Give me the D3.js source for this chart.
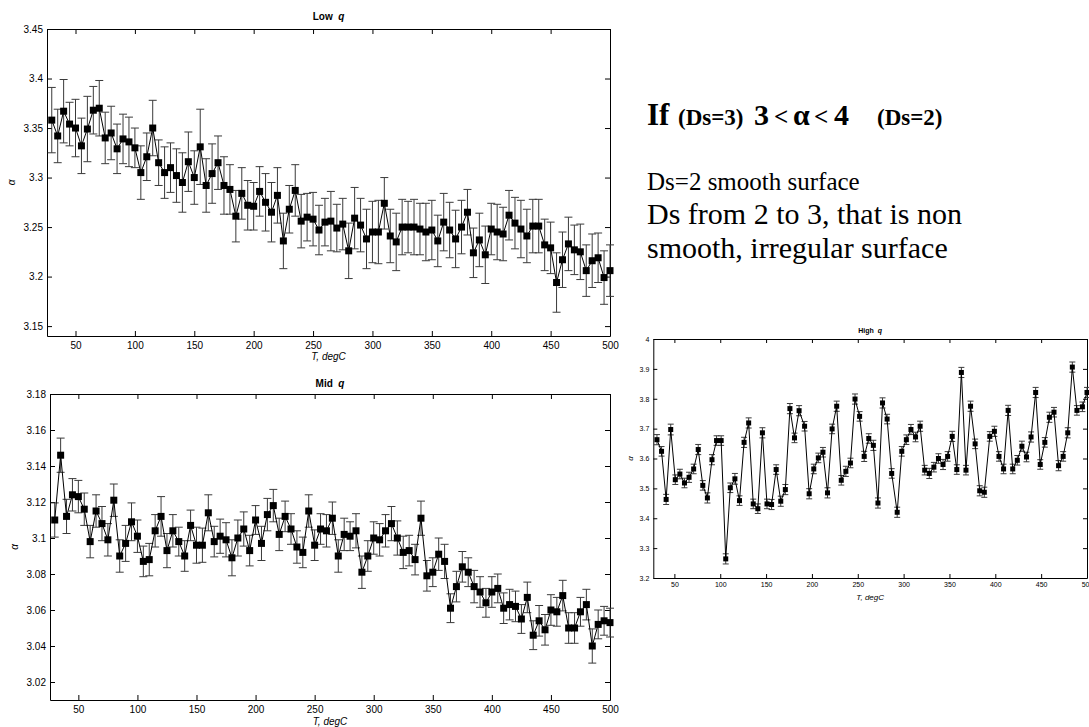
<!DOCTYPE html>
<html><head><meta charset="utf-8">
<script src="https://cdn.jsdelivr.net/npm/d3@7"></script>
<style>
body{margin:0;background:#fff;}
svg{display:block;}
text.sans{font-family:"Liberation Sans",Arial,Helvetica,sans-serif;}
text.serif{font-family:"Liberation Serif","Times New Roman",serif;}
</style>
</head><body>
<svg id="chart" width="1089" height="727"></svg>
<script>
// ---------------- DATA ----------------
const temps = [30,35,40,45,50,55,60,65,70,75,80,85,90,95,100,105,110,115,120,125,
  130,135,140,145,150,155,160,165,170,175,180,185,190,195,200,205,210,215,220,225,
  230,235,240,245,250,255,260,265,270,275,280,285,290,295,300,305,310,315,320,325,
  330,335,340,345,350,355,360,365,370,375,380,385,390,395,400,405,410,415,420,425,
  430,435,440,445,450,455,460,465,470,475,480,485,490,495,500];

const lowAlpha = [3.358,3.342,3.367,3.354,3.350,3.332,3.349,3.368,3.370,3.340,
  3.345,3.329,3.339,3.336,3.330,3.305,3.321,3.350,3.315,3.305,
  3.310,3.302,3.295,3.316,3.300,3.331,3.292,3.304,3.315,3.292,
  3.288,3.261,3.284,3.272,3.271,3.286,3.275,3.265,3.282,3.236,
  3.268,3.287,3.256,3.260,3.258,3.247,3.255,3.256,3.249,3.253,
  3.226,3.259,3.252,3.238,3.245,3.245,3.274,3.241,3.235,3.250,
  3.250,3.250,3.248,3.245,3.247,3.236,3.255,3.247,3.238,3.250,
  3.265,3.224,3.237,3.222,3.248,3.245,3.243,3.262,3.254,3.248,
  3.241,3.251,3.251,3.232,3.229,3.194,3.217,3.233,3.227,3.225,
  3.206,3.216,3.219,3.199,3.206];
const lowErr = [0.033,0.027,0.032,0.022,0.029,0.028,0.033,0.024,0.028,0.026,
  0.027,0.025,0.025,0.025,0.020,0.027,0.024,0.028,0.023,0.026,
  0.025,0.027,0.030,0.030,0.027,0.038,0.027,0.030,0.027,0.029,
  0.025,0.026,0.026,0.025,0.024,0.025,0.029,0.030,0.028,0.028,
  0.024,0.026,0.027,0.024,0.027,0.025,0.024,0.030,0.024,0.026,
  0.028,0.031,0.027,0.030,0.031,0.032,0.026,0.027,0.029,0.028,
  0.026,0.028,0.026,0.029,0.030,0.026,0.029,0.028,0.029,0.027,
  0.023,0.025,0.027,0.029,0.026,0.028,0.027,0.025,0.026,0.029,
  0.027,0.027,0.027,0.026,0.026,0.030,0.028,0.027,0.025,0.028,
  0.026,0.027,0.025,0.027,0.026];

const midAlpha = [3.110,3.146,3.112,3.124,3.123,3.116,3.098,3.115,3.108,3.099,
  3.121,3.090,3.097,3.109,3.101,3.087,3.088,3.104,3.112,3.093,
  3.104,3.098,3.090,3.107,3.096,3.096,3.114,3.098,3.101,3.099,
  3.089,3.100,3.105,3.093,3.110,3.097,3.113,3.118,3.102,3.112,
  3.105,3.095,3.092,3.115,3.096,3.105,3.104,3.111,3.090,3.102,
  3.101,3.104,3.081,3.090,3.100,3.099,3.104,3.108,3.100,3.092,
  3.093,3.088,3.111,3.079,3.081,3.091,3.087,3.061,3.073,3.084,
  3.081,3.073,3.070,3.064,3.070,3.072,3.061,3.063,3.062,3.055,
  3.067,3.046,3.054,3.049,3.060,3.059,3.068,3.050,3.050,3.059,
  3.063,3.040,3.052,3.054,3.053];
const midErr = [0.0095,0.0095,0.0095,0.0090,0.0090,0.0090,0.0090,0.0090,0.0095,0.0090,
  0.0090,0.0090,0.0100,0.0105,0.0090,0.0085,0.0090,0.0090,0.0110,0.0095,
  0.0090,0.0080,0.0085,0.0085,0.0100,0.0095,0.0100,0.0085,0.0095,0.0095,
  0.0100,0.0100,0.0095,0.0085,0.0080,0.0095,0.0090,0.0090,0.0090,0.0085,
  0.0085,0.0090,0.0085,0.0090,0.0085,0.0085,0.0090,0.0090,0.0090,0.0090,
  0.0080,0.0095,0.0090,0.0085,0.0090,0.0090,0.0090,0.0095,0.0095,0.0090,
  0.0085,0.0085,0.0095,0.0085,0.0080,0.0090,0.0095,0.0080,0.0085,0.0085,
  0.0080,0.0090,0.0085,0.0080,0.0085,0.0080,0.0085,0.0085,0.0085,0.0080,
  0.0085,0.0080,0.0085,0.0085,0.0085,0.0080,0.0085,0.0085,0.0085,0.0080,
  0.0085,0.0095,0.0080,0.0080,0.0080];

const highTemps = [31,36,41,46,51,56,61,66,71,76,
  81,86,91,96,101,106,111,116,121,126,
  131,136,141,146,151,156,161,166,171,176,
  181,186,192,197,202,207,212,217,222,227,
  232,237,242,247,252,257,262,267,272,277,
  282,287,293,298,303,308,313,318,323,328,
  333,338,343,348,353,358,363,368,373,378,
  383,388,394,399,404,409,414,419,424,429,
  434,439,444,449,454,459,464,469,474,479,
  484,489,495,500];
const highAlpha = [3.663,3.624,3.463,3.697,3.529,3.548,3.518,3.537,3.565,3.630,
  3.510,3.468,3.596,3.660,3.660,3.264,3.502,3.532,3.459,3.654,
  3.719,3.448,3.432,3.686,3.448,3.446,3.563,3.457,3.496,3.767,
  3.669,3.760,3.708,3.482,3.565,3.602,3.621,3.485,3.699,3.775,
  3.527,3.557,3.585,3.799,3.741,3.607,3.667,3.644,3.451,3.786,
  3.732,3.550,3.420,3.624,3.663,3.697,3.672,3.708,3.561,3.550,
  3.571,3.600,3.580,3.607,3.674,3.563,3.888,3.561,3.775,3.649,
  3.492,3.487,3.674,3.691,3.607,3.565,3.761,3.565,3.594,3.641,
  3.605,3.672,3.821,3.580,3.654,3.738,3.755,3.576,3.607,3.686,
  3.906,3.761,3.773,3.821];
const highErr = [0.017,0.016,0.017,0.018,0.016,0.016,0.016,0.017,0.016,0.017,
  0.016,0.017,0.017,0.016,0.016,0.017,0.016,0.018,0.016,0.017,
  0.017,0.016,0.016,0.017,0.016,0.017,0.016,0.017,0.017,0.017,
  0.016,0.017,0.016,0.017,0.016,0.016,0.016,0.017,0.016,0.017,
  0.016,0.017,0.016,0.017,0.016,0.017,0.016,0.017,0.017,0.017,
  0.016,0.016,0.017,0.016,0.016,0.017,0.016,0.017,0.016,0.017,
  0.016,0.016,0.017,0.016,0.017,0.016,0.017,0.016,0.017,0.016,
  0.017,0.017,0.016,0.017,0.016,0.016,0.017,0.016,0.016,0.017,
  0.016,0.017,0.017,0.016,0.016,0.017,0.016,0.017,0.016,0.017,
  0.017,0.016,0.016,0.017];

const xTicks = [50,100,150,200,250,300,350,400,450,500];
const lowYTicks = [3.15,3.2,3.25,3.3,3.35,3.4,3.45];
const midYTicks = [3.02,3.04,3.06,3.08,3.1,3.12,3.14,3.16,3.18];
const highYTicks = [3.2,3.3,3.4,3.5,3.6,3.7,3.8,3.9,4];

const titles = ["Low", "Mid", "High"];
const xLabel = "T, degC";
const yLabel = "\u03B1";

// ---------------- DRAWING ----------------
const svg = d3.select("#chart");
const fmtY = d => String(Math.round(d * 100) / 100);

function panel(o) {
  const g = svg.append("g");
  const x = d3.scaleLinear().domain(o.xDomain).range([o.left, o.right]);
  const y = d3.scaleLinear().domain(o.yDomain).range([o.bottom, o.top]);

  const styleAxis = sel => {
    sel.selectAll("path.domain").attr("stroke", "#000").attr("stroke-width", 1);
    sel.selectAll(".tick line").attr("stroke", "#000").attr("stroke-width", 1);
    sel.selectAll("text").attr("class", "sans").attr("fill", "#000").attr("font-size", o.tickFont);
  };

  g.append("g").attr("transform", `translate(0,${o.bottom})`)
    .call(d3.axisBottom(x).tickValues(xTicks).tickSize(-o.tick).tickSizeOuter(0)
      .tickPadding(o.xPad).tickFormat(d3.format("d"))).call(styleAxis);
  g.append("g").attr("transform", `translate(0,${o.top})`)
    .call(d3.axisTop(x).tickValues(xTicks).tickSize(-o.tick).tickSizeOuter(0)
      .tickFormat("")).call(styleAxis);
  g.append("g").attr("transform", `translate(${o.left},0)`)
    .call(d3.axisLeft(y).tickValues(o.yTicks).tickSize(-o.tick).tickSizeOuter(0)
      .tickPadding(o.yPad).tickFormat(fmtY)).call(styleAxis);
  g.append("g").attr("transform", `translate(${o.right},0)`)
    .call(d3.axisRight(y).tickValues(o.yTicks).tickSize(-o.tick).tickSizeOuter(0)
      .tickFormat("")).call(styleAxis);

  const data = o.t.map((t, i) => ({t, v: o.v[i], e: o.e[i]}));

  // error bars
  const eb = g.append("g").attr("stroke", "#3a3a3a").attr("stroke-width", 1).attr("fill", "none");
  eb.selectAll("line.v").data(data).join("line").attr("class", "v")
    .attr("x1", d => x(d.t)).attr("x2", d => x(d.t))
    .attr("y1", d => y(d.v - d.e)).attr("y2", d => y(d.v + d.e));
  eb.selectAll("line.top").data(data).join("line").attr("class", "top")
    .attr("x1", d => x(d.t) - o.cap).attr("x2", d => x(d.t) + o.cap)
    .attr("y1", d => y(d.v + d.e)).attr("y2", d => y(d.v + d.e));
  eb.selectAll("line.bot").data(data).join("line").attr("class", "bot")
    .attr("x1", d => x(d.t) - o.cap).attr("x2", d => x(d.t) + o.cap)
    .attr("y1", d => y(d.v - d.e)).attr("y2", d => y(d.v - d.e));

  // connecting line
  g.append("path").datum(data)
    .attr("fill", "none").attr("stroke", "#000").attr("stroke-width", 1)
    .attr("d", d3.line().x(d => x(d.t)).y(d => y(d.v)));

  // markers
  g.selectAll("rect.m").data(data).join("rect").attr("class", "m")
    .attr("x", d => x(d.t) - o.ms / 2).attr("y", d => y(d.v) - o.ms / 2)
    .attr("width", o.ms).attr("height", o.ms).attr("fill", "#000");

  // title
  const cx = (o.left + o.right) / 2;
  const tt = g.append("text").attr("class", "sans").attr("x", cx).attr("y", o.titleY)
    .attr("text-anchor", "middle").attr("font-weight", "bold").attr("font-size", o.titleFont);
  tt.append("tspan").text(o.title);
  tt.append("tspan").attr("dx", o.titleFont * 0.55).attr("font-style", "italic").text("q");

  // x label
  g.append("text").attr("class", "sans").attr("x", cx).attr("y", o.xLabY).attr("text-anchor", "middle")
    .attr("font-style", "italic").attr("font-size", o.labFont).text(xLabel);
  // y label
  const cy = (o.top + o.bottom) / 2;
  g.append("text").attr("class", "sans").attr("transform", `translate(${o.yLabX},${cy}) rotate(-90)`)
    .attr("text-anchor", "middle").attr("font-style", "italic")
    .attr("font-size", o.labFont).text(yLabel);
}

panel({t: temps, v: lowAlpha, e: lowErr, title: titles[0],
  left: 47, right: 610, top: 29, bottom: 336,
  xDomain: [26, 500], yDomain: [3.14, 3.45], yTicks: lowYTicks,
  tick: 5, tickFont: 10, xPad: 6, yPad: 4, ms: 7, cap: 4,
  titleY: 20, titleFont: 10, labFont: 10, xLabY: 360, yLabX: 15});

panel({t: temps, v: midAlpha, e: midErr, title: titles[1],
  left: 50, right: 610, top: 394, bottom: 700,
  xDomain: [26, 500], yDomain: [3.01, 3.18], yTicks: midYTicks,
  tick: 5, tickFont: 10, xPad: 6, yPad: 4, ms: 7, cap: 4,
  titleY: 387, titleFont: 10, labFont: 10, xLabY: 725, yLabX: 18});

panel({t: highTemps, v: highAlpha, e: highErr, title: titles[2],
  left: 653.3, right: 1087, top: 339, bottom: 578,
  xDomain: [27, 500], yDomain: [3.2, 4], yTicks: highYTicks,
  tick: 4, tickFont: 7, xPad: 4.5, yPad: 4, ms: 5, cap: 3,
  titleY: 333, titleFont: 7, labFont: 8, xLabY: 600, yLabX: 633});

// ---------------- TEXT BLOCK ----------------
const head = svg.append("text").attr("class", "serif").attr("y", 125)
  .attr("font-weight", "bold").attr("fill", "#000");
const headParts = [
  {s: "If", x: 647, f: 31},
  {s: "(Ds=3)", x: 678, f: 23},
  {s: "3", x: 754, f: 30},
  {s: "<", x: 774, f: 25},
  {s: "\u03B1", x: 793, f: 30},
  {s: "<", x: 814, f: 25},
  {s: "4", x: 834, f: 30},
  {s: "(Ds=2)", x: 877, f: 23}
];
head.selectAll("tspan").data(headParts).join("tspan")
  .attr("x", d => d.x).attr("font-size", d => d.f).text(d => d.s);

const lines = [
  {s: "Ds=2 smooth surface", y: 190, f: 25},
  {s: "Ds from 2 to 3, that is non", y: 224, f: 30},
  {s: "smooth, irregular surface", y: 258, f: 30}
];
svg.selectAll("text.body").data(lines).join("text").attr("class", "serif body")
  .attr("x", 647).attr("y", d => d.y)
  .attr("font-size", d => d.f).attr("fill", "#000").text(d => d.s);
</script>
</body></html>
